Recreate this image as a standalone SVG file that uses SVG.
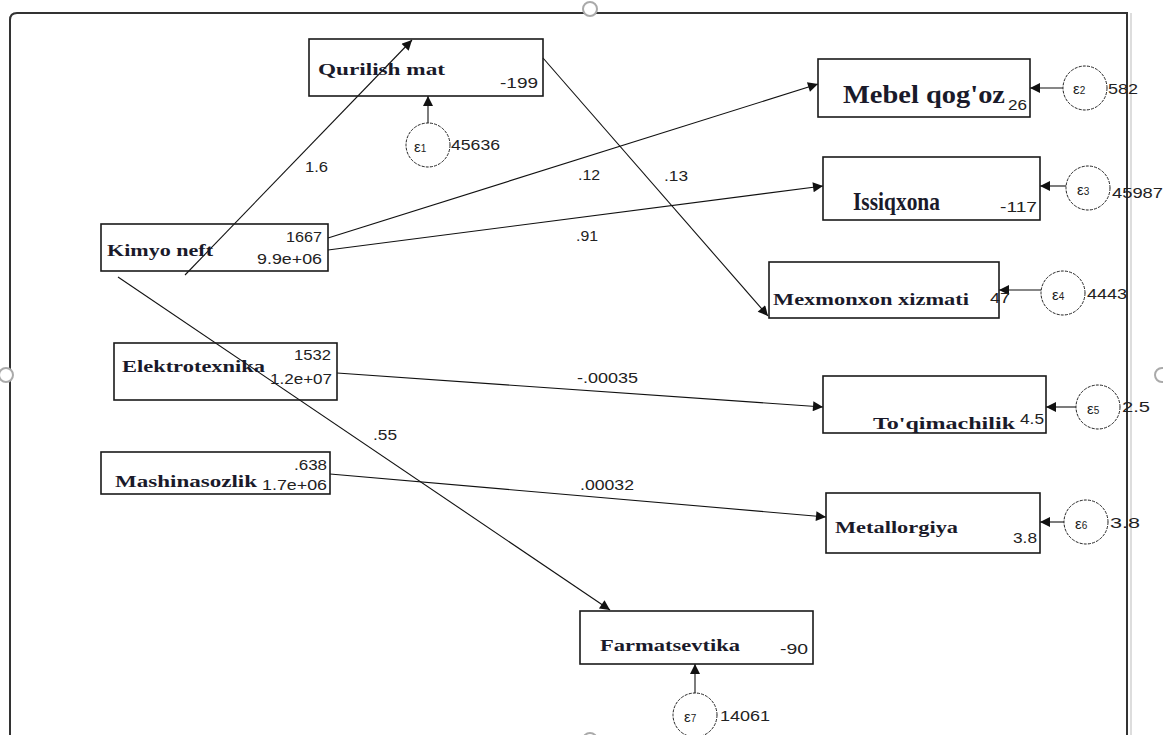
<svg xmlns="http://www.w3.org/2000/svg" width="1163" height="735" viewBox="0 0 1163 735">
<style>
.box{fill:none;stroke:#1a1a1a;stroke-width:1.6}
.lbl{font-family:"Liberation Serif",serif;font-weight:bold;font-size:17px;fill:#1a1a2a}
.big{font-size:25px}
.num{font-family:"Liberation Sans",Arial,sans-serif;font-size:14px;fill:#222}
.err{fill:#fff;stroke:#222;stroke-width:1;stroke-dasharray:3 1.2}
.eps{font-family:"Liberation Sans",Arial,sans-serif;font-size:15px;fill:#222}
.con{stroke:#111;stroke-width:1.1;fill:none;marker-end:url(#ah)}
.frame{stroke:#333;stroke-width:2;fill:none}
.handle{fill:#fff;stroke:#aaa;stroke-width:2}
</style>
<defs>
<marker id="ah" viewBox="0 0 10 10" refX="10" refY="5" markerWidth="12" markerHeight="10" markerUnits="userSpaceOnUse" orient="auto">
<path d="M0,0 L10,5 L0,10 z" fill="#111"/>
</marker>
</defs>
<rect width="1163" height="735" fill="#fff"/>
<g id="frame">
<path class="frame" d="M10,735 V20 Q10,13 17,13 H1127 V735"/>
<line x1="1131" y1="13" x2="1131" y2="735" stroke="#bbb" stroke-width="1"/>
<circle class="handle" cx="590" cy="9" r="7"/>
<circle class="handle" cx="6" cy="375" r="7"/>
<circle class="handle" cx="1162" cy="375" r="7"/>
<circle class="handle" cx="590" cy="740" r="7"/>
</g>
<g id="connectors">
<line class="con" x1="185" y1="275" x2="412" y2="40"/>
<line class="con" x1="543" y1="58" x2="768" y2="316"/>
<line class="con" x1="328" y1="238" x2="818" y2="84"/>
<line class="con" x1="328" y1="250" x2="823" y2="186"/>
<line class="con" x1="118" y1="277" x2="610" y2="610"/>
<line class="con" x1="337" y1="373" x2="823" y2="407"/>
<line class="con" x1="330" y1="474" x2="826" y2="517"/>
<line class="con" x1="428" y1="123" x2="428" y2="96"/>
<line class="con" x1="1063" y1="88" x2="1030" y2="88"/>
<line class="con" x1="1066" y1="186" x2="1040" y2="186"/>
<line class="con" x1="1041" y1="290" x2="999" y2="290"/>
<line class="con" x1="1076" y1="407" x2="1046" y2="407"/>
<line class="con" x1="1064" y1="522" x2="1040" y2="522"/>
<line class="con" x1="695" y1="693" x2="695" y2="664"/>
<text class="num" x="305" y="172" textLength="23" lengthAdjust="spacingAndGlyphs">1.6</text>
<text class="num" x="664" y="181" textLength="24" lengthAdjust="spacingAndGlyphs">.13</text>
<text class="num" x="578" y="180" textLength="22" lengthAdjust="spacingAndGlyphs">.12</text>
<text class="num" x="576" y="241" textLength="22" lengthAdjust="spacingAndGlyphs">.91</text>
<text class="num" x="373" y="440" textLength="24" lengthAdjust="spacingAndGlyphs">.55</text>
<text class="num" x="577" y="383" textLength="61" lengthAdjust="spacingAndGlyphs">-.00035</text>
<text class="num" x="580" y="490" textLength="54" lengthAdjust="spacingAndGlyphs">.00032</text>
</g>
<g id="qurilish">
<rect class="box" x="309" y="39" width="234" height="57"/>
<text class="lbl" x="318" y="75" textLength="127" lengthAdjust="spacingAndGlyphs">Qurilish mat</text>
<text class="num" x="500" y="88" textLength="38" lengthAdjust="spacingAndGlyphs">-199</text>
</g>
<g id="e1">
<circle class="err" cx="428" cy="145" r="22"/>
<text class="eps" x="414" y="152">ε<tspan font-size="10">1</tspan></text>
<text class="num" x="451" y="150" textLength="49" lengthAdjust="spacingAndGlyphs">45636</text>
</g>
<g id="kimyo">
<rect class="box" x="101" y="224" width="227" height="47"/>
<text class="lbl" x="107" y="256" textLength="106" lengthAdjust="spacingAndGlyphs">Kimyo neft</text>
<text class="num" x="286" y="242" textLength="36" lengthAdjust="spacingAndGlyphs">1667</text>
<text class="num" x="257" y="264" textLength="65" lengthAdjust="spacingAndGlyphs">9.9e+06</text>
</g>
<g id="elektro">
<rect class="box" x="114" y="343" width="223" height="57"/>
<text class="lbl" x="122" y="372" textLength="143" lengthAdjust="spacingAndGlyphs">Elektrotexnika</text>
<text class="num" x="294" y="360" textLength="37" lengthAdjust="spacingAndGlyphs">1532</text>
<text class="num" x="270" y="384" textLength="62" lengthAdjust="spacingAndGlyphs">1.2e+07</text>
</g>
<g id="mashina">
<rect class="box" x="101" y="452" width="229" height="42"/>
<text class="lbl" x="115" y="487" textLength="142" lengthAdjust="spacingAndGlyphs">Mashinasozlik</text>
<text class="num" x="294" y="470" textLength="33" lengthAdjust="spacingAndGlyphs">.638</text>
<text class="num" x="262" y="490" textLength="65" lengthAdjust="spacingAndGlyphs">1.7e+06</text>
</g>
<g id="mebel">
<rect class="box" x="818" y="59" width="212" height="58"/>
<text class="lbl big" x="843" y="103" textLength="162" lengthAdjust="spacingAndGlyphs">Mebel qog'oz</text>
<text class="num" x="1008" y="110" textLength="19" lengthAdjust="spacingAndGlyphs">26</text>
</g>
<g id="e2">
<circle class="err" cx="1085" cy="88" r="22"/>
<text class="eps" x="1073" y="94">ε<tspan font-size="10">2</tspan></text>
<text class="num" x="1108" y="94" textLength="30" lengthAdjust="spacingAndGlyphs">582</text>
</g>
<g id="issiq">
<rect class="box" x="823" y="157" width="217" height="63"/>
<text class="lbl big" x="853" y="210" textLength="87" lengthAdjust="spacingAndGlyphs">Issiqxona</text>
<text class="num" x="1000" y="212" textLength="37" lengthAdjust="spacingAndGlyphs">-117</text>
</g>
<g id="e3">
<circle class="err" cx="1088" cy="188" r="22"/>
<text class="eps" x="1077" y="195">ε<tspan font-size="10">3</tspan></text>
<text class="num" x="1112" y="198" textLength="51" lengthAdjust="spacingAndGlyphs">45987</text>
</g>
<g id="mexmon">
<rect class="box" x="769" y="262" width="230" height="56"/>
<text class="lbl" x="773" y="305" textLength="196" lengthAdjust="spacingAndGlyphs">Mexmonxon xizmati</text>
<text class="num" x="990" y="303" textLength="20" lengthAdjust="spacingAndGlyphs">47</text>
</g>
<g id="e4">
<circle class="err" cx="1063" cy="293" r="22"/>
<text class="eps" x="1052" y="300">ε<tspan font-size="10">4</tspan></text>
<text class="num" x="1087" y="299" textLength="40" lengthAdjust="spacingAndGlyphs">4443</text>
</g>
<g id="toqim">
<rect class="box" x="823" y="376" width="223" height="57"/>
<text class="lbl" x="873" y="429" textLength="142" lengthAdjust="spacingAndGlyphs">To'qimachilik</text>
<text class="num" x="1020" y="424" textLength="24" lengthAdjust="spacingAndGlyphs">4.5</text>
</g>
<g id="e5">
<circle class="err" cx="1098" cy="407" r="22"/>
<text class="eps" x="1087" y="414">ε<tspan font-size="10">5</tspan></text>
<text class="num" x="1122" y="412" textLength="28" lengthAdjust="spacingAndGlyphs">2.5</text>
</g>
<g id="metal">
<rect class="box" x="826" y="493" width="214" height="60"/>
<text class="lbl" x="835" y="533" textLength="123" lengthAdjust="spacingAndGlyphs">Metallorgiya</text>
<text class="num" x="1013" y="543" textLength="24" lengthAdjust="spacingAndGlyphs">3.8</text>
</g>
<g id="e6">
<circle class="err" cx="1086" cy="522" r="22"/>
<text class="eps" x="1075" y="529">ε<tspan font-size="10">6</tspan></text>
<text class="num" x="1110" y="528" textLength="30" lengthAdjust="spacingAndGlyphs">3.8</text>
</g>
<g id="farma">
<rect class="box" x="580" y="611" width="233" height="53"/>
<text class="lbl" x="600" y="651" textLength="140" lengthAdjust="spacingAndGlyphs">Farmatsevtika</text>
<text class="num" x="780" y="654" textLength="28" lengthAdjust="spacingAndGlyphs">-90</text>
</g>
<g id="e7">
<circle class="err" cx="695" cy="715" r="22"/>
<text class="eps" x="684" y="722">ε<tspan font-size="10">7</tspan></text>
<text class="num" x="720" y="721" textLength="50" lengthAdjust="spacingAndGlyphs">14061</text>
</g>
</svg>
